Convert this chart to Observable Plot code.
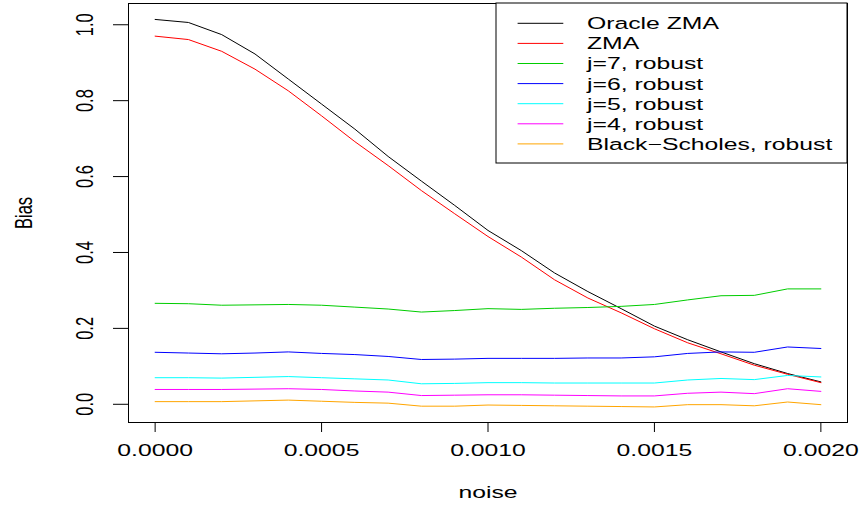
<!DOCTYPE html>
<html>
<head>
<meta charset="utf-8">
<script src="https://cdn.jsdelivr.net/npm/d3@7"></script>
<script src="https://cdn.jsdelivr.net/npm/@observablehq/plot@0.6"></script>
<style>
  html, body { margin: 0; padding: 0; background: #fff; }
</style>
</head>
<body>
<div id="chart"></div>
<script>
// Noise levels on the x axis
const noise = [0, 0.0001, 0.0002, 0.0003, 0.0004, 0.0005, 0.0006, 0.0007, 0.0008, 0.0009, 0.0010,
               0.0011, 0.0012, 0.0013, 0.0014, 0.0015, 0.0016, 0.0017, 0.0018, 0.0019, 0.0020];

// Bias of each estimator at every noise level
const oracleZMA = [1.014, 1.006, 0.974, 0.923, 0.857, 0.791, 0.725, 0.653, 0.588, 0.524, 0.458,
                   0.405, 0.346, 0.297, 0.252, 0.206, 0.170, 0.138, 0.107, 0.081, 0.059];
const zma       = [0.970, 0.961, 0.930, 0.883, 0.826, 0.760, 0.692, 0.629, 0.563, 0.502, 0.442,
                   0.388, 0.328, 0.280, 0.241, 0.199, 0.162, 0.133, 0.103, 0.079, 0.057];
const j7Robust  = [0.266, 0.265, 0.261, 0.262, 0.263, 0.261, 0.256, 0.251, 0.243, 0.247, 0.252,
                   0.250, 0.253, 0.255, 0.258, 0.263, 0.275, 0.286, 0.287, 0.304, 0.304];
const j6Robust  = [0.137, 0.135, 0.133, 0.135, 0.138, 0.134, 0.131, 0.126, 0.118, 0.119, 0.121,
                   0.121, 0.121, 0.122, 0.122, 0.125, 0.134, 0.138, 0.137, 0.151, 0.147];
const j5Robust  = [0.070, 0.070, 0.069, 0.071, 0.073, 0.070, 0.067, 0.064, 0.054, 0.055, 0.057,
                   0.057, 0.056, 0.056, 0.056, 0.056, 0.064, 0.068, 0.065, 0.076, 0.072];
const j4Robust  = [0.039, 0.039, 0.039, 0.040, 0.041, 0.039, 0.035, 0.032, 0.023, 0.024, 0.025,
                   0.025, 0.024, 0.023, 0.022, 0.022, 0.029, 0.032, 0.028, 0.041, 0.034];
const bsRobust  = [0.007, 0.007, 0.007, 0.009, 0.011, 0.008, 0.005, 0.003, -0.005, -0.005, -0.002,
                   -0.003, -0.004, -0.005, -0.006, -0.007, -0.001, -0.001, -0.004, 0.006, -0.001];

const seriesNames  = ["Oracle ZMA", "ZMA", "j=7, robust", "j=6, robust", "j=5, robust", "j=4, robust", "Black\u2212Scholes, robust"];
const seriesValues = [oracleZMA, zma, j7Robust, j6Robust, j5Robust, j4Robust, bsRobust];
const seriesColors = ["#000000", "#FF0000", "#00CD00", "#0000FF", "#00FFFF", "#FF00FF", "#FFA500"];

const xTicks = [0, 0.0005, 0.0010, 0.0015, 0.0020];
const yTicks = [0, 0.2, 0.4, 0.6, 0.8, 1.0];

// Long-format rows for the line mark
const rows = seriesNames.flatMap((name, k) =>
  noise.map((x, i) => ({noise: x, bias: seriesValues[k][i], series: name})));

const FONT = "'Liberation Sans', Arial, Helvetica, sans-serif";
const FONT_SIZE = 16.5;
const STRETCH = 1.5; // horizontal widening of all lettering

// Boxed legend in the top-right corner of the panel
function legendMark(index, scales, values, dims) {
  const right = dims.width - dims.marginRight;
  const top = dims.marginTop;
  const boxW = 351, boxH = 160;
  const left = right - boxW;
  const g = d3.create("svg:g");
  g.append("rect")
    .attr("x", left).attr("y", top)
    .attr("width", boxW).attr("height", boxH)
    .attr("fill", "white").attr("stroke", "black").attr("stroke-width", 1);
  const row = g.selectAll("g.row").data(seriesNames).join("g")
    .attr("class", "row")
    .attr("transform", (d, i) => `translate(0,${top + 20.3 + i * 20.1})`);
  row.append("line")
    .attr("x1", left + 21.6).attr("x2", left + 67.3)
    .attr("stroke", (d, i) => scales.color ? scales.color(d) : seriesColors[i])
    .attr("stroke-width", 1);
  row.append("text")
    .attr("x", left + 91).attr("y", 5.9)
    .attr("text-anchor", "start")
    .attr("fill", "black")
    .attr("font-size", FONT_SIZE)
    .text(d => d);
  return g.node();
}

const chart = Plot.plot({
  width: 862,
  height: 506,
  marginLeft: 128,
  marginRight: 15,
  marginTop: 3,
  marginBottom: 84,
  style: {fontFamily: FONT, fontSize: FONT_SIZE + "px", background: "white", color: "black"},
  x: {domain: [-0.00008, 0.00208]},
  y: {domain: [-0.048, 1.056]},
  color: {domain: seriesNames, range: seriesColors},
  marks: [
    Plot.line(rows, {x: "noise", y: "bias", z: "series", stroke: "series", strokeWidth: 1}),
    Plot.frame({stroke: "black", strokeWidth: 1}),
    Plot.axisX({ticks: xTicks, tickSize: 10, tickPadding: 12, tickFormat: d3.format(".4f"), label: null, fontSize: FONT_SIZE}),
    Plot.axisY({ticks: yTicks, tickSize: 15, tickFormat: () => "", label: null}),
    Plot.text(yTicks, {y: d => d, text: d => d.toFixed(1), frameAnchor: "left", dx: -36,
                       rotate: -90, textAnchor: "middle", lineAnchor: "bottom", fontSize: FONT_SIZE}),
    Plot.text(["noise"], {frameAnchor: "bottom", dy: 75, lineAnchor: "bottom", fontSize: FONT_SIZE}),
    Plot.text(["Bias"], {frameAnchor: "left", dx: -97, rotate: -90, textAnchor: "middle",
                         lineAnchor: "bottom", fontSize: FONT_SIZE}),
    legendMark
  ]
});

document.getElementById("chart").appendChild(chart);

// Widen every label horizontally about its own anchor point
chart.querySelectorAll("text").forEach(t => {
  const tl = t.transform.baseVal.consolidate();
  const M = tl ? tl.matrix : chart.createSVGMatrix();
  const xs = t.x.baseVal, ys = t.y.baseVal;
  const lx = xs.numberOfItems ? xs.getItem(0).value : 0;
  const ly = ys.numberOfItems ? ys.getItem(0).value : 0;
  const ax = M.a * lx + M.c * ly + M.e;
  const prev = t.getAttribute("transform") || "";
  t.setAttribute("transform", `translate(${ax},0) scale(${STRETCH},1) translate(${-ax},0) ${prev}`);
});
</script>
</body>
</html>
